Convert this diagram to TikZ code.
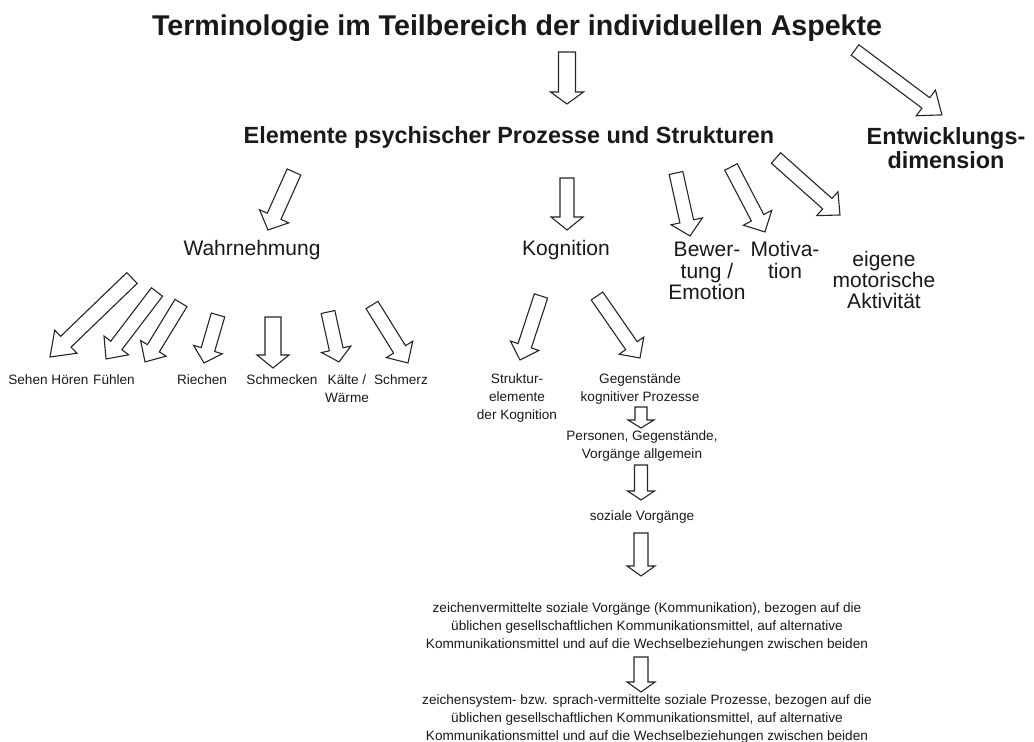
\documentclass[tikz,border=0pt]{standalone}
\usepackage{fontspec}
\setmainfont{Liberation Sans}
\usetikzlibrary{calc}

\tikzset{
  hollow/.style={draw=black!85, line width=0.55pt, line join=miter, fill=white},
  txt/.style={inner sep=0pt, align=center, text=black!90},
  bigbold/.style={txt, font=\bfseries\fontsize{14.3}{17}\selectfont},
  midbold/.style={txt, font=\bfseries\fontsize{11.7}{11.7}\selectfont},
  midtext/.style={txt, font=\fontsize{10.5}{10.6}\selectfont},
  smalltext/.style={txt, font=\fontsize{6.8}{9}\selectfont},
}

% hollow block arrow: from, to, shaft half width, head half width, head length (px)
\newcommand{\blockarrow}[5]{%
  \draw[hollow] let \p1=($(#2)-(#1)$), \n1={atan2(\y1,\x1)}, \n2={veclen(\x1,\y1)} in
    [shift={(#1)}, rotate=\n1]
    (0pt,{#3*0.5pt}) -- ({\n2-#5*0.5pt},{#3*0.5pt}) -- ({\n2-#5*0.5pt},{#4*0.5pt})
    -- ({\n2*1pt},0pt) -- ({\n2-#5*0.5pt},{-#4*0.5pt}) -- ({\n2-#5*0.5pt},{-#3*0.5pt})
    -- (0pt,{-#3*0.5pt}) -- cycle;}

\begin{document}
\begin{tikzpicture}[x=0.5pt, y=-0.5pt]
\useasboundingbox (0,0) rectangle (1034,742);

% headings
\node[bigbold] (title) at (517,28) {Terminologie im Teilbereich der individuellen Aspekte};
\node[midbold] (elem) at (509,137) {Elemente psychischer Prozesse und Strukturen};
\node[midbold] (entw) at (946,148) {Entwicklungs-\\dimension};

% second level
\node[midtext] (wahr) at (252,250) {Wahrnehmung};
\node[midtext] (kogn) at (566,250) {Kognition};
\node[midtext] (bew) at (707,271) {Bewer-\\tung /\\Emotion};
\node[midtext] (motiv) at (785,260) {Motiva-\\tion};
\node[midtext] (eigen) at (884,280) {eigene\\motorische\\Aktivit\"at};

% senses
\node[smalltext] (sehen) at (28,380) {Sehen};
\node[smalltext] (hoeren) at (70,380) {H\"oren};
\node[smalltext] (fuehlen) at (114,380) {F\"uhlen};
\node[smalltext] (riechen) at (202,380) {Riechen};
\node[smalltext] (schmecken) at (282,380) {Schmecken};
\node[smalltext] (kaelte) at (347,388.5) {K\"alte /\\W\"arme};
\node[smalltext] (schmerz) at (401,380) {Schmerz};

% cognition chain
\node[smalltext] (struk) at (517,398) {Struktur-\\elemente\\der Kognition};
\node[smalltext] (gegen) at (640,389) {Gegenst\"ande\\kognitiver Prozesse};
\node[smalltext] (pers) at (642,446) {Personen, Gegenst\"ande,\\Vorg\"ange allgemein};
\node[smalltext] (sozial) at (642,517) {soziale Vorg\"ange};
\node[smalltext] (zeichen) at (647,627) {zeichenvermittelte soziale Vorg\"ange (Kommunikation), bezogen auf die\\
  \"ublichen gesellschaftlichen Kommunikationsmittel, auf alternative\\
  Kommunikationsmittel und auf die Wechselbeziehungen zwischen beiden};
\node[smalltext] (sprach) at (647,719) {zeichensystem- bzw. sprach-vermittelte soziale Prozesse, bezogen auf die\\
  \"ublichen gesellschaftlichen Kommunikationsmittel, auf alternative\\
  Kommunikationsmittel und auf die Wechselbeziehungen zwischen beiden};

% arrow ends
\coordinate (title-a) at (567,52);   \coordinate (elem-a) at (567,104);
\coordinate (title-b) at (855,50);   \coordinate (entw-a) at (942,115);
\coordinate (elem-w) at (294,172);   \coordinate (wahr-a) at (268,230);
\coordinate (elem-k) at (567,178);   \coordinate (kogn-a) at (567,230);
\coordinate (elem-b) at (676,173);   \coordinate (bew-a) at (690,236);
\coordinate (elem-m) at (731,167);   \coordinate (motiv-a) at (765,232);
\coordinate (elem-e) at (776,158);   \coordinate (eigen-a) at (840,215);
\coordinate (wahr-1) at (132,278);   \coordinate (sehen-a) at (50,357);
\coordinate (wahr-2) at (157,292);   \coordinate (hoeren-a) at (106,359);
\coordinate (wahr-3) at (181,303);   \coordinate (fuehlen-a) at (145,362);
\coordinate (wahr-4) at (218,315);   \coordinate (riechen-a) at (204,363);
\coordinate (wahr-5) at (273,317);   \coordinate (schmecken-a) at (273,368);
\coordinate (wahr-6) at (328,312);   \coordinate (kaelte-a) at (339,362);
\coordinate (wahr-7) at (372,305);   \coordinate (schmerz-a) at (408,363);
\coordinate (kogn-1) at (541,296);   \coordinate (struk-a) at (520,360);
\coordinate (kogn-2) at (597,296);   \coordinate (gegen-a) at (640,358);
\coordinate (gegen-b) at (641,407);  \coordinate (pers-a) at (641,428);
\coordinate (pers-b) at (641,465);   \coordinate (sozial-a) at (641,500);
\coordinate (sozial-b) at (641,533); \coordinate (zeichen-a) at (641,576);
\coordinate (zeichen-b) at (641,657); \coordinate (sprach-a) at (641,692);

% arrows
\blockarrow{title-a}{elem-a}{8.5}{16.5}{12}
\blockarrow{title-b}{entw-a}{6.5}{16}{20}
\blockarrow{elem-w}{wahr-a}{7.5}{16}{15}
\blockarrow{elem-k}{kogn-a}{7}{16}{13}
\blockarrow{elem-b}{bew-a}{7}{16}{15}
\blockarrow{elem-m}{motiv-a}{7}{16}{16}
\blockarrow{elem-e}{eigen-a}{7}{16}{17}
\blockarrow{wahr-1}{sehen-a}{7.5}{16}{22}
\blockarrow{wahr-2}{hoeren-a}{7}{15.5}{17}
\blockarrow{wahr-3}{fuehlen-a}{7}{15}{16}
\blockarrow{wahr-4}{riechen-a}{7}{15}{14}
\blockarrow{wahr-5}{schmecken-a}{8}{16}{13}
\blockarrow{wahr-6}{kaelte-a}{7}{15}{13}
\blockarrow{wahr-7}{schmerz-a}{7}{15.5}{16}
\blockarrow{kogn-1}{struk-a}{7}{15}{15}
\blockarrow{kogn-2}{gegen-a}{7}{15}{15}
\blockarrow{gegen-b}{pers-a}{6}{13}{8}
\blockarrow{pers-b}{sozial-a}{6.5}{13.5}{9}
\blockarrow{sozial-b}{zeichen-a}{7}{14}{10}
\blockarrow{zeichen-b}{sprach-a}{7}{14}{10}
\end{tikzpicture}
\end{document}
